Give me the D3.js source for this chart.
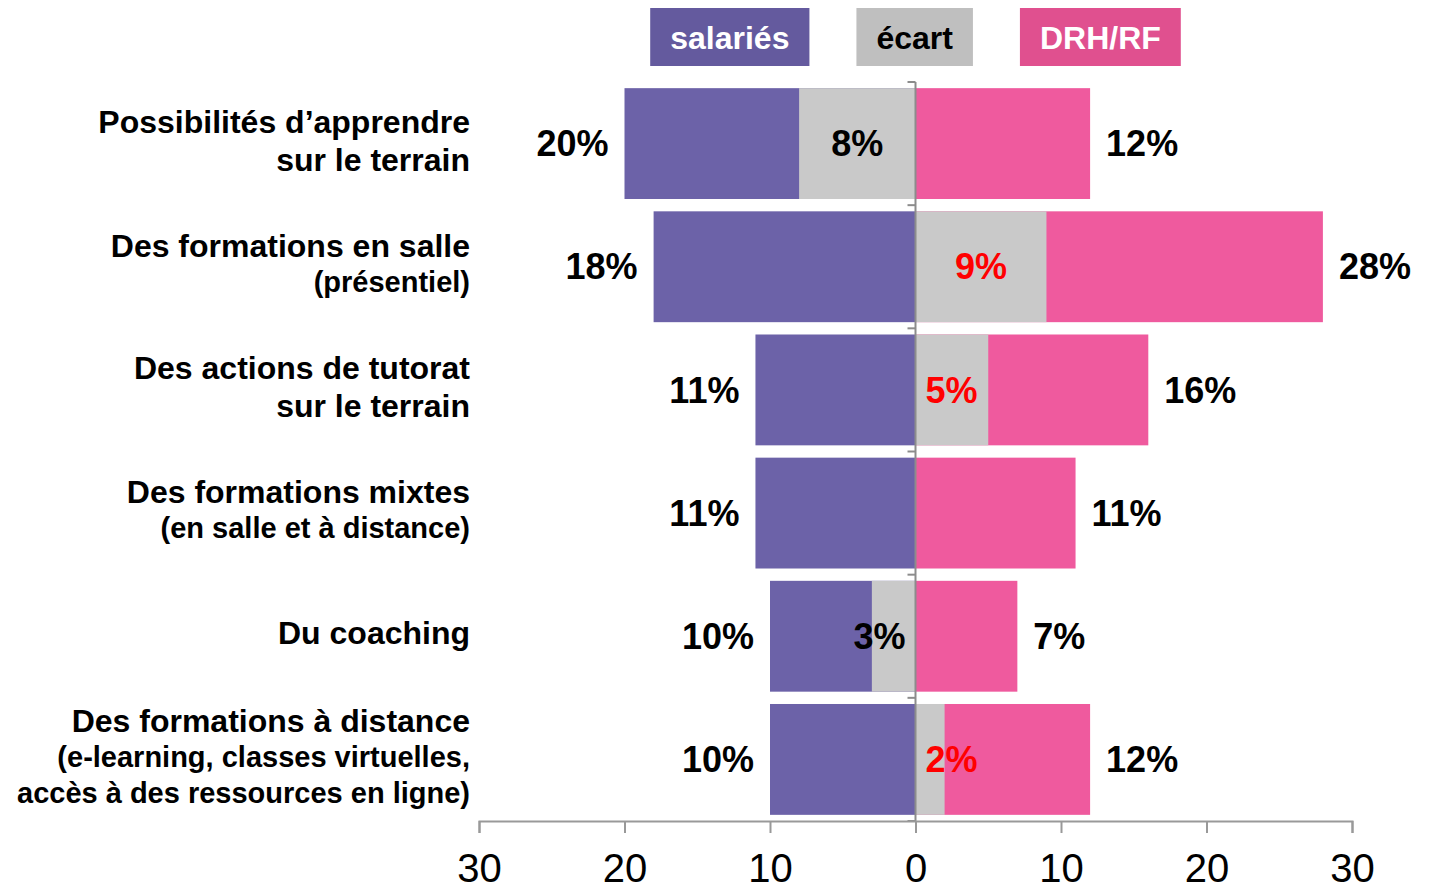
<!DOCTYPE html>
<html>
<head>
<meta charset="utf-8">
<script src="https://cdn.jsdelivr.net/npm/d3@7"></script>
<style>
  body { margin: 0; background: #fff; }
  text { font-family: "Liberation Sans", Arial, sans-serif; }
</style>
</head>
<body>
<div id="chart"></div>
<script>
// one entry per row, each row split in lines
var categories = [
    ["Possibilités d’apprendre", "sur le terrain"],
    ["Des formations en salle", "(présentiel)"],
    ["Des actions de tutorat", "sur le terrain"],
    ["Des formations mixtes", "(en salle et à distance)"],
    ["Du coaching"],
    ["Des formations à distance", "(e-learning, classes virtuelles,", "accès à des ressources en ligne)"]
];
var smallLines = [0, 1, 0, 1, 0, 2];   // trailing lines in smaller type
var salaries = [20, 18, 11, 11, 10, 10];
var drh = [12, 28, 16, 11, 7, 12];
var ecart = [-8, 9, 5, 0, -3, 2];        // negative = on the salariés side
var tickValues = [-30, -20, -10, 0, 10, 20, 30];
var legendLabels = ["salariés", "écart", "DRH/RF"];

var colors = {sal: "#6c62a8", gap: "#c9c9c9", drh: "#ef5a9e"};
var legendColors = ["#645a9e", "#bfbfbf", "#e0508f"];
var legendText = ["#fff", "#000", "#fff"];

var width = 1431, height = 889;
var margin = {top: 82, right: 79, bottom: 68, left: 479};

var x = d3.scaleLinear()
    .domain([-30, 30])
    .range([margin.left, width - margin.right]);

var y = d3.scaleBand()
    .domain(d3.range(categories.length))
    .range([margin.top, height - margin.bottom])
    .paddingInner(0.1)
    .paddingOuter(0.05);

var svg = d3.select("#chart")
    .append("svg")
        .attr("width", width)
        .attr("height", height);

// bars
var rows = svg.append("g")
    .selectAll("g")
    .data(d3.range(categories.length))
    .join("g")
        .attr("transform", i => `translate(0,${y(i)})`);

rows.append("rect")
    .attr("x", i => x(-salaries[i]))
    .attr("width", i => x(0) - x(-salaries[i]))
    .attr("height", y.bandwidth())
    .attr("fill", colors.sal);

rows.append("rect")
    .attr("x", x(0))
    .attr("width", i => x(drh[i]) - x(0))
    .attr("height", y.bandwidth())
    .attr("fill", colors.drh);

rows.filter(i => ecart[i] != 0).append("rect")
    .attr("x", i => x(Math.min(0, ecart[i])))
    .attr("width", i => Math.abs(x(ecart[i]) - x(0)))
    .attr("height", y.bandwidth())
    .attr("fill", colors.gap);

// value labels
rows.append("text")
    .attr("x", i => x(-salaries[i]) - 16)
    .attr("y", y.bandwidth() / 2)
    .attr("dy", "0.35em")
    .attr("text-anchor", "end")
    .attr("font-size", 36)
    .attr("font-weight", "bold")
    .text(i => salaries[i] + "%");

rows.append("text")
    .attr("x", i => x(drh[i]) + 16)
    .attr("y", y.bandwidth() / 2)
    .attr("dy", "0.35em")
    .attr("font-size", 36)
    .attr("font-weight", "bold")
    .text(i => drh[i] + "%");

rows.filter(i => ecart[i] != 0).append("text")
    .attr("y", y.bandwidth() / 2)
    .attr("dy", "0.35em")
    .attr("text-anchor", "middle")
    .attr("font-size", 36)
    .attr("font-weight", "bold")
    .attr("fill", i => ecart[i] > 0 ? "#ff0000" : "#000")
    .text(i => Math.abs(ecart[i]) + "%")
    .each(function(i) {
        var w = this.getComputedTextLength();
        var seg = Math.abs(x(ecart[i]) - x(0));
        var cx = (x(ecart[i]) + x(0)) / 2;
        if (seg < w + 24) cx = x(0) + Math.sign(ecart[i]) * (w / 2 + 10);
        d3.select(this).attr("x", cx);
    });

// category labels
rows.each(function(i) {
    var lines = categories[i];
    var nBig = lines.length - smallLines[i];
    var offs = [0];
    for (var k = 1; k < lines.length; k++) offs.push(offs[k - 1] + (k < nBig ? 38 : 36));
    var mid = (offs[0] + offs[offs.length - 1]) / 2;
    d3.select(this).selectAll("text.cat")
        .data(lines)
        .join("text")
            .attr("class", "cat")
            .attr("x", 470)
            .attr("y", (d, k) => y.bandwidth() / 2 + offs[k] - mid - 3)
            .attr("dy", "0.35em")
            .attr("text-anchor", "end")
            .attr("font-weight", "bold")
            .attr("font-size", (d, k) => k < nBig ? 32 : 29)
            .text(d => d);
});

// zero line with small ticks between rows
var zero = svg.append("g")
    .attr("stroke", "#8c8c8c")
    .attr("stroke-width", 2);

zero.append("line")
    .attr("x1", x(0)).attr("x2", x(0))
    .attr("y1", y.range()[0]).attr("y2", y.range()[1]);

zero.selectAll("line.sep")
    .data(d3.range(categories.length + 1))
    .join("line")
        .attr("class", "sep")
        .attr("x1", x(0) - 8).attr("x2", x(0))
        .attr("y1", k => y.range()[0] + k * y.step())
        .attr("y2", k => y.range()[0] + k * y.step());

// x axis
var axis = svg.append("g")
    .attr("transform", `translate(0,${height - margin.bottom})`)
    .call(d3.axisBottom(x)
        .tickValues(tickValues)
        .tickSize(12)
        .tickPadding(21)
        .tickFormat(d => Math.abs(d)));

axis.select(".domain").attr("stroke", "#999").attr("stroke-width", 2);
axis.selectAll(".tick line").attr("stroke", "#999").attr("stroke-width", 2);
axis.selectAll(".tick text")
    .attr("font-size", 40)
    .attr("font-family", "'Liberation Sans', Arial, sans-serif")
    .attr("fill", "#000");

// legend, centred on zero
var legend = svg.append("g");
var items = legend.selectAll("g")
    .data(legendLabels)
    .join("g");

items.append("rect")
    .attr("y", 8)
    .attr("height", 58)
    .attr("fill", (d, i) => legendColors[i]);

items.append("text")
    .attr("y", 38)
    .attr("dy", "0.35em")
    .attr("text-anchor", "middle")
    .attr("font-size", 32)
    .attr("font-weight", "bold")
    .attr("fill", (d, i) => legendText[i])
    .text(d => d);

var boxW = [];
items.select("text").each(function() { boxW.push(this.getComputedTextLength() + 40); });
var total = d3.sum(boxW) + 47 * (boxW.length - 1);
var pos = x(0) - total / 2;
items.each(function(d, i) {
    var g = d3.select(this);
    g.select("rect").attr("x", pos).attr("width", boxW[i]);
    g.select("text").attr("x", pos + boxW[i] / 2);
    pos += boxW[i] + 47;
});
</script>
</body>
</html>
